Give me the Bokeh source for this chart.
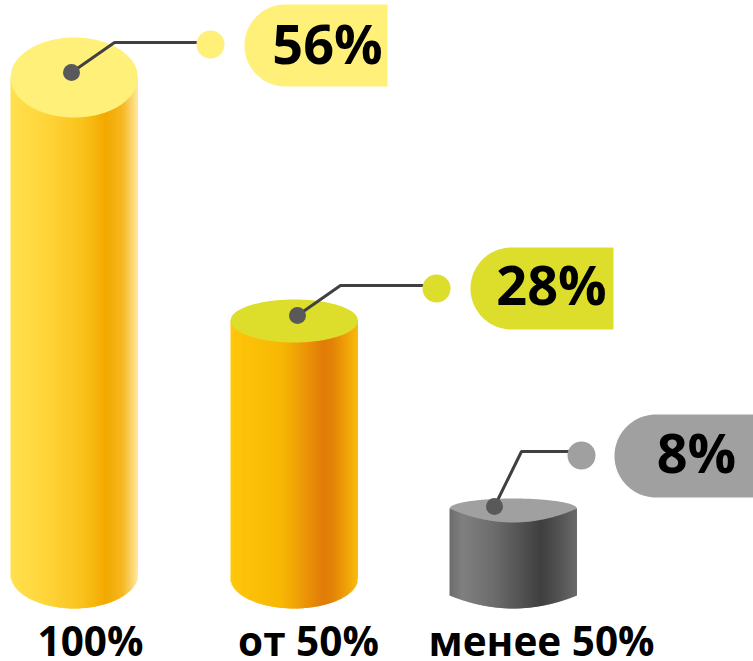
import math
from bokeh.plotting import figure
from bokeh.models import Range1d
from bokeh.core.properties import value
from bokeh.embed import file_html
from bokeh.resources import INLINE

categories = ["100%", "от 50%", "менее 50%"]
shares = [56, 28, 8]

# geometry of the illustration (reference pixels)
LEFT = [10, 230, 449]
RW = 63.75
FLOOR = 608
UNIT = 8.9
LIFT = [32.6, 38.8, 28.8]
TOP_BACK = [40, 21, 10]
TOP_FRONT = [40, 22, 14]
BOTTOM_RY = [34, 30, 13]
ROUND = [True, True, False]
TOP_COL = ["#FFF07A", "#DDDD2C", "#A0A0A0"]
BUBBLE_COL = ["#FFF07A", "#DDDD2C", "#A0A0A0"]
RAMPS = [
    [(0, "#FFE04F"), (.25, "#FFD63C"), (.55, "#FAC31E"), (.75, "#F2A900"), (.88, "#F6B825"), (1, "#FFE9A0")],
    [(0, "#FFC60B"), (.4, "#F7B704"), (.72, "#E27C08"), (.8, "#E38306"), (1, "#F9BC0B")],
    [(0, "#6E6E6E"), (.1, "#808080"), (.35, "#6C6C6C"), (.72, "#3F3F3F"), (.88, "#565656"), (1, "#6A6A6A")],
]
DOT = [(71, 72), (297, 315), (494, 506)]
ELBOW = [(114, 42), (340, 285), (521, 451)]
END = [(197, 42), (425, 285), (570, 451)]
KNOB = [(210, 44), (436, 288), (581, 455)]
BUB = [(244, 387), (470, 613), (614, 760)]
BUB_Y = [(4, 86), (247, 329), (414, 497)]
VAL_POS = [(327, 42), (551, 283), (696, 451)]
CAT_POS = [(90, 640), (308, 640), (541, 640)]


def lerp_col(ramp, t):
    for (a, ca), (b, cb) in zip(ramp, ramp[1:]):
        if t <= b:
            f = (t - a) / (b - a)
            rgb = [round(int(ca[i:i+2], 16) * (1 - f) + int(cb[i:i+2], 16) * f) for i in (1, 3, 5)]
            return "#%02X%02X%02X" % tuple(rgb)
    return ramp[-1][1]


def ell(u):
    return math.sqrt(max(0, 1 - u * u))


def prof(u, rounded):
    return ell(u) if rounded else 1 - u * u


p = figure(width=753, height=661, x_range=Range1d(0, 753), y_range=Range1d(661, 0),
           output_backend="svg", toolbar_location=None, min_border=0)
p.xaxis.visible = False
p.yaxis.visible = False
p.grid.visible = False
p.outline_line_color = None
p.background_fill_color = None
p.border_fill_color = "#FFFFFF"

for i, v in enumerate(shares):
    top = FLOOR - (LIFT[i] + UNIT * v)
    cx = LEFT[i] + RW
    base_edge = FLOOR - BOTTOM_RY[i]
    l, r, t, b, c = [], [], [], [], []
    for k in range(128):
        x0 = LEFT[i] + k
        u0 = (x0 + .5 - cx) / RW
        u1 = (x0 + 1.5 - cx) / RW
        l.append(x0)
        r.append(min(x0 + 2, LEFT[i] + 127.5))
        t.append(top)
        b.append(base_edge + BOTTOM_RY[i] * min(prof(u0, ROUND[i]), prof(u1, ROUND[i])))
        c.append(lerp_col(RAMPS[i], k / 127))
    p.quad(left=l, right=r, top=t, bottom=b, fill_color=c, fill_alpha=1.0, line_color=None)
    # cap
    us = [-1 + 2 * j / 120 for j in range(121)]
    xs = [cx + RW * u for u in us] + [cx + RW * u for u in reversed(us)]
    ys = [top - TOP_BACK[i] * ell(u) for u in us] + \
         [top + TOP_FRONT[i] * prof(u, ROUND[i]) for u in reversed(us)]
    p.patch(xs, ys, fill_color=TOP_COL[i], fill_alpha=1.0, line_color=None)
    # leader
    p.line([DOT[i][0], ELBOW[i][0], END[i][0]], [DOT[i][1], ELBOW[i][1], END[i][1]],
           line_color="#404040", line_width=3)
    p.circle(x=[DOT[i][0]], y=[DOT[i][1]], radius=8.5, fill_color="#595959", fill_alpha=1.0, line_color=None)
    p.circle(x=[KNOB[i][0]], y=[KNOB[i][1]], radius=14, fill_color=BUBBLE_COL[i], fill_alpha=1.0, line_color=None)
    # bubble: arc from top to bottom through the left side
    x0, x1 = BUB[i]
    y0, y1 = BUB_Y[i]
    rad = (y1 - y0) / 2
    arc = [math.pi / 2 + math.pi * j / 60 for j in range(61)]
    bx = [x1, x1] + [x0 + rad + rad * math.cos(a) for a in arc]
    by = [y1, y0] + [(y0 + y1) / 2 - rad * math.sin(a) for a in arc]
    p.patch(bx, by, fill_color=BUBBLE_COL[i], fill_alpha=1.0, line_color=None)
    p.text(x=[VAL_POS[i][0]], y=[VAL_POS[i][1]], text=[f"{v}%"], text_align="center",
           text_baseline="middle", text_font=value("Open Sans"), text_font_style="bold",
           text_font_size="54px", text_color="#000000")
    p.text(x=[CAT_POS[i][0]], y=[CAT_POS[i][1]], text=[categories[i]], text_align="center",
           text_baseline="middle", text_font=value("Open Sans"), text_font_style="bold",
           text_font_size="40.5px", text_color="#000000")

open("out.html", "w").write(file_html(p, INLINE))
